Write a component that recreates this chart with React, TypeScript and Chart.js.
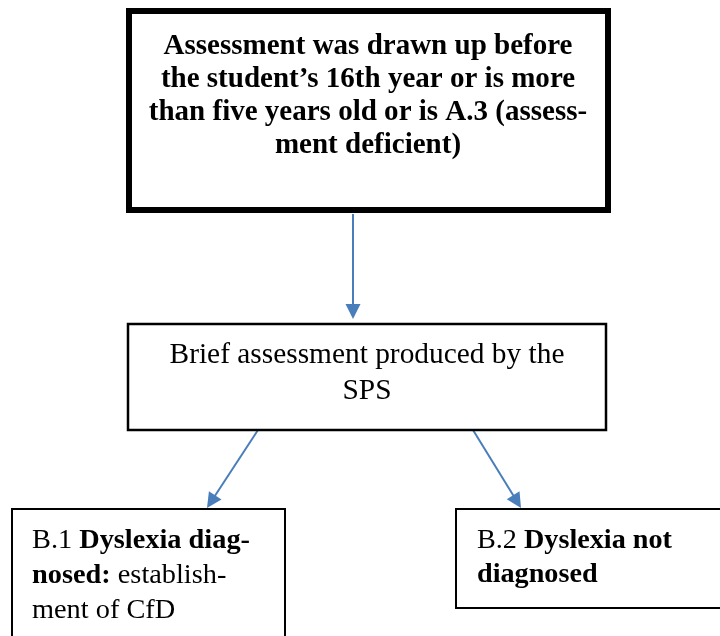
import React, { useEffect, useRef } from "react";
import { Chart, registerables } from "chart.js";

Chart.register(...registerables);

type Run = [string, boolean]; // [text, bold]

// ---- content ----
const nodeIds = ["top", "brief", "b1", "b2"];
const topLines: Run[][] = [
  [["Assessment was drawn up before", true]],
  [["the student\u2019s 16th year or is more", true]],
  [["than five years old or is A.3 (assess-", true]],
  [["ment deficient)", true]],
];
const briefLines: Run[][] = [
  [["Brief assessment produced by the", false]],
  [["SPS", false]],
];
const b1Lines: Run[][] = [
  [["B.1 ", false], ["Dyslexia diag-", true]],
  [["nosed:", true], [" establish-", false]],
  [["ment of CfD", false]],
];
const b2Lines: Run[][] = [
  [["B.2 ", false], ["Dyslexia not", true]],
  [["diagnosed", true]],
];
const nodeTexts = [topLines, briefLines, b1Lines, b2Lines];
const edges: [number, number][] = [
  [0, 1],
  [1, 2],
  [1, 3],
];

// ---- layout (data units = pixels of a 720x636 page) ----
const boxRects = [
  { x0: 129, y0: 11, x1: 608, y1: 210, lw: 6, align: "center", tx: 368, base: 54, gap: 33, fitW: 409 },
  { x0: 128, y0: 324, x1: 606, y1: 430, lw: 2.5, align: "center", tx: 367, base: 363, gap: 36, fitW: 395 },
  { x0: 12, y0: 509, x1: 285, y1: 660, lw: 2, align: "left", tx: 32, base: 548, gap: 35, fitW: 218 },
  { x0: 456, y0: 509, x1: 740, y1: 608, lw: 2, align: "left", tx: 477, base: 548, gap: 34, fitW: 195 },
];
const edgeAnchors = [
  { from: { x: 353, y: 214 }, to: { x: 353, y: 319 } },
  { from: { x: 258, y: 430 }, to: { x: 207, y: 508 } },
  { from: { x: 473, y: 430 }, to: { x: 521, y: 508 } },
];
const ARROW = "#4A7EBB";
const FONT = "'Liberation Serif', 'Times New Roman', serif";

function fontStr(bold: boolean, px: number) {
  return `${bold ? "bold " : ""}${px}px ${FONT}`;
}
function lineWidth(ctx: CanvasRenderingContext2D, line: Run[], px: number) {
  let w = 0;
  for (const [t, b] of line) {
    ctx.font = fontStr(b, px);
    w += ctx.measureText(t).width;
  }
  return w;
}

const flowPlugin = {
  id: "flow",
  afterDatasetsDraw(chart: any) {
    const ctx: CanvasRenderingContext2D = chart.ctx;
    const xs = chart.scales.x;
    const ys = chart.scales.y;
    const px = (v: number) => xs.getPixelForValue(v);
    const py = (v: number) => ys.getPixelForValue(v);
    ctx.save();
    // arrowheads
    edges.forEach((_, i) => {
      const a = edgeAnchors[i];
      const x1 = px(a.from.x), y1 = py(a.from.y), x2 = px(a.to.x), y2 = py(a.to.y);
      const ang = Math.atan2(y2 - y1, x2 - x1);
      const L = 15, W = 7.5;
      ctx.fillStyle = ARROW;
      ctx.beginPath();
      ctx.moveTo(x2, y2);
      ctx.lineTo(x2 - L * Math.cos(ang) + W * Math.sin(ang), y2 - L * Math.sin(ang) - W * Math.cos(ang));
      ctx.lineTo(x2 - L * Math.cos(ang) - W * Math.sin(ang), y2 - L * Math.sin(ang) + W * Math.cos(ang));
      ctx.closePath();
      ctx.fill();
    });
    // boxes
    nodeIds.forEach((_, i) => {
      const r = boxRects[i];
      ctx.fillStyle = "#ffffff";
      ctx.fillRect(px(r.x0), py(r.y0), px(r.x1) - px(r.x0), py(r.y1) - py(r.y0));
      ctx.strokeStyle = "#000000";
      ctx.lineWidth = r.lw;
      ctx.strokeRect(px(r.x0), py(r.y0), px(r.x1) - px(r.x0), py(r.y1) - py(r.y0));
      const lines = nodeTexts[i];
      const w0 = lineWidth(ctx, lines[0], 100);
      const fpx = (100 * r.fitW) / w0;
      ctx.fillStyle = "#000000";
      ctx.textBaseline = "alphabetic";
      ctx.textAlign = "left";
      lines.forEach((line, li) => {
        const w = lineWidth(ctx, line, fpx);
        let x = r.align === "center" ? px(r.tx) - w / 2 : px(r.tx);
        const y = py(r.base + li * r.gap);
        for (const [t, b] of line) {
          ctx.font = fontStr(b, fpx);
          ctx.fillText(t, x, y);
          x += ctx.measureText(t).width;
        }
      });
    });
    ctx.restore();
  },
};

export default function App() {
  const ref = useRef<HTMLCanvasElement>(null);
  useEffect(() => {
    if (!ref.current) return;
    const chart = new Chart(ref.current, {
      type: "scatter",
      data: {
        datasets: edges.map((e, i) => ({
          label: `${nodeIds[e[0]]}-${nodeIds[e[1]]}`,
          data: [edgeAnchors[i].from, {
            x: edgeAnchors[i].to.x - 14 * Math.sign(edgeAnchors[i].to.x - edgeAnchors[i].from.x) * Math.abs(Math.cos(Math.atan2(edgeAnchors[i].to.y - edgeAnchors[i].from.y, edgeAnchors[i].to.x - edgeAnchors[i].from.x))),
            y: edgeAnchors[i].to.y - 14 * Math.abs(Math.sin(Math.atan2(edgeAnchors[i].to.y - edgeAnchors[i].from.y, edgeAnchors[i].to.x - edgeAnchors[i].from.x))),
          }],
          showLine: true,
          borderColor: ARROW,
          borderWidth: 2,
          pointRadius: 0,
          fill: false,
        })),
      },
      options: {
        animation: false,
        responsive: false,
        maintainAspectRatio: false,
        layout: { padding: 0 },
        events: [],
        plugins: { legend: { display: false }, tooltip: { enabled: false } },
        scales: {
          x: { type: "linear", min: 0, max: 720, display: false },
          y: { type: "linear", min: 0, max: 636, reverse: true, display: false },
        },
      },
      plugins: [flowPlugin],
    });
    return () => chart.destroy();
  }, []);
  return (
    <div style={{ position: "fixed", left: 0, top: 0, width: 720, height: 636, background: "#fff" }}>
      <canvas ref={ref} width={720} height={636} style={{ width: 720, height: 636 }} />
    </div>
  );
}
